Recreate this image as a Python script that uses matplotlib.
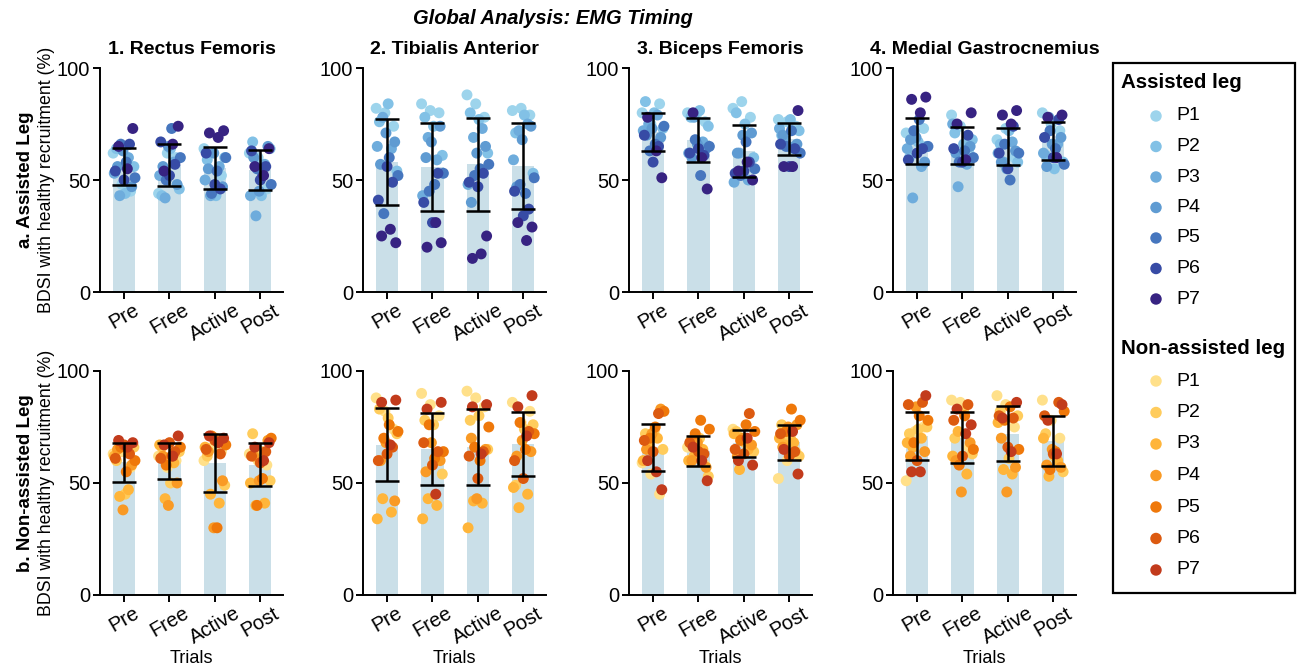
import numpy as np
import matplotlib
matplotlib.use("Agg")
import matplotlib.pyplot as plt
from matplotlib.patches import Rectangle

plt.rcParams['font.family'] = ['Liberation Sans', 'DejaVu Sans']

trials = ["Pre", "Free", "Active", "Post"]
muscles = ["1. Rectus Femoris", "2. Tibialis Anterior", "3. Biceps Femoris", "4. Medial Gastrocnemius"]
participants = ["P1", "P2", "P3", "P4", "P5", "P6", "P7"]

assisted_colors = ["#9dd4ec", "#82c1e6", "#6eacdc", "#5f9bd2", "#4676be", "#374ba5", "#372382"]
non_colors = ["#ffe08a", "#ffcc5c", "#ffb53a", "#f99a25", "#ef780a", "#dc5a10", "#c23b1c"]
bar_color = "#cadfe8"

# BDSI values (%), per trial -> per participant -> 3 repetitions
rf_assisted = [
    [[62, 48, 45], [64, 44, 56], [43, 60, 53], [63, 47, 56], [58, 51, 66], [66, 54, 50], [73, 65, 55]],
    [[44, 62, 60], [43, 64, 46], [42, 58, 52], [65, 48, 56], [73, 60, 50], [57, 67, 52], [74, 54, 66]],
    [[64, 44, 52], [59, 43, 60], [43, 56, 50], [62, 47, 55], [54, 60, 44], [46, 62, 48], [72, 71, 69]],
    [[62, 60, 46], [67, 43, 64], [34, 57, 43], [45, 65, 60], [52, 48, 55], [56, 63, 50], [64, 56, 52]],
]
ta_assisted = [
    [[82, 80, 74], [76, 84, 54], [78, 64, 65], [71, 67, 57], [60, 52, 35], [49, 41, 56], [22, 25, 28]],
    [[84, 81, 80], [78, 74, 61], [69, 59, 43], [67, 74, 60], [48, 53, 45], [53, 40, 31], [22, 20, 31]],
    [[88, 84, 78], [80, 77, 62], [69, 73, 48], [62, 65, 40], [55, 57, 52], [53, 49, 47], [25, 15, 17]],
    [[81, 82, 79], [71, 79, 53], [72, 75, 59], [68, 74, 47], [44, 51, 48], [37, 45, 34], [29, 31, 23]],
]
bf_assisted = [
    [[80, 75, 84], [85, 80, 73], [75, 79, 72], [73, 69, 70], [66, 74, 63], [65, 70, 58], [51, 78, 63]],
    [[80, 79, 76], [78, 81, 74], [78, 67, 62], [66, 64, 60], [52, 65, 68], [61, 62, 64], [46, 80, 60]],
    [[82, 85, 78], [80, 75, 60], [62, 50, 49], [70, 71, 62], [67, 55, 52], [58, 53, 54], [50, 54, 58]],
    [[77, 76, 74], [70, 77, 72], [68, 64, 73], [65, 66, 70], [72, 62, 65], [64, 66, 56], [81, 56, 56]],
]
mg_assisted = [
    [[71, 72, 73], [60, 67, 65], [42, 56, 64], [69, 58, 68], [77, 65, 72], [64, 59, 62], [87, 86, 80]],
    [[79, 74, 62], [71, 66, 68], [47, 57, 75], [58, 65, 62], [63, 60, 58], [70, 64, 58], [80, 75, 59]],
    [[68, 73, 60], [66, 72, 58], [58, 67, 62], [55, 63, 58], [50, 62, 66], [74, 62, 55], [81, 79, 75]],
    [[80, 75, 72], [61, 55, 58], [78, 66, 62], [66, 69, 56], [64, 57, 72], [77, 69, 60], [79, 78, 60]],
]
rf_non = [
    [[63, 64, 57], [60, 45, 66], [44, 47, 62], [38, 58, 65], [55, 60, 66], [63, 61, 67], [68, 69, 66]],
    [[62, 57, 60], [66, 50, 64], [43, 59, 67], [40, 50, 62], [62, 66, 58], [64, 61, 68], [71, 67, 62]],
    [[60, 66, 64], [62, 70, 49], [45, 41, 66], [30, 51, 64], [30, 67, 71], [63, 65, 69], [70, 71, 68]],
    [[63, 60, 58], [72, 64, 51], [40, 41, 50], [51, 69, 62], [52, 70, 40], [64, 62, 59], [68, 66, 60]],
]
ta_non = [
    [[88, 82, 74], [83, 79, 72], [43, 37, 34], [68, 42, 60], [76, 73, 70], [66, 60, 63], [87, 86, 67]],
    [[90, 85, 80], [78, 76, 54], [43, 40, 34], [68, 60, 55], [61, 64, 76], [64, 68, 58], [86, 83, 45]],
    [[91, 88, 84], [78, 80, 65], [42, 41, 30], [43, 65, 70], [60, 75, 66], [64, 62, 52], [85, 84, 63]],
    [[86, 77, 82], [49, 74, 76], [39, 45, 48], [69, 64, 62], [65, 72, 77], [73, 60, 52], [89, 84, 71]],
]
bf_non = [
    [[59, 54, 45], [72, 73, 65], [66, 70, 60], [72, 83, 65], [75, 82, 70], [81, 69, 64], [47, 60, 55]],
    [[66, 62, 58], [69, 70, 53], [62, 65, 60], [68, 57, 60], [78, 74, 72], [63, 68, 64], [51, 66, 60]],
    [[74, 70, 66], [73, 68, 64], [56, 65, 72], [70, 67, 62], [76, 73, 69], [81, 65, 63], [58, 60, 70]],
    [[52, 60, 64], [76, 70, 62], [67, 68, 70], [75, 76, 66], [83, 78, 73], [64, 72, 62], [54, 65, 73]],
]
mg_non = [
    [[51, 73, 75], [72, 74, 75], [66, 70, 68], [84, 64, 62], [80, 78, 68], [86, 85, 60], [89, 55, 55]],
    [[87, 86, 66], [70, 82, 63], [73, 54, 62], [46, 68, 60], [80, 65, 58], [85, 78, 62], [76, 83, 72]],
    [[89, 85, 75], [82, 61, 80], [56, 54, 77], [46, 57, 70], [84, 65, 78], [79, 80, 66], [86, 79, 64]],
    [[87, 78, 70], [72, 62, 55], [53, 60, 70], [65, 57, 58], [64, 82, 56], [86, 80, 63], [85, 78, 63]],
]

rows = [
    ([rf_assisted, ta_assisted, bf_assisted, mg_assisted], assisted_colors, "a. Assisted Leg"),
    ([rf_non, ta_non, bf_non, mg_non], non_colors, "b. Non-assisted Leg"),
]

W, H = 1304, 667
fig = plt.figure(figsize=(W / 100, H / 100), dpi=100)

col_left = [100, 363, 629, 893]
ax_w = 183
row_top = [68, 371]
ax_h = 224

# fixed horizontal spread for the 21 points of each bar
n_pts = 21
spread = np.linspace(-0.24, 0.24, n_pts)
jitter = spread[(np.arange(n_pts) * 8) % n_pts]

for r, (panels, colors, row_label) in enumerate(rows):
    for c, panel in enumerate(panels):
        ax = fig.add_axes([col_left[c] / W, (H - row_top[r] - ax_h) / H, ax_w / W, ax_h / H])
        x = np.arange(len(trials))
        vals = [np.array(t, dtype=float) for t in panel]
        means = [v.mean() for v in vals]
        sds = [v.ravel().std(ddof=1) for v in vals]
        ax.bar(x, means, width=0.49, color=bar_color, zorder=1)
        for ti, v in enumerate(vals):
            for p in range(len(participants)):
                idx = p * 3 + np.arange(3)
                ax.scatter(ti + jitter[idx], v[p], s=62, color=colors[p], edgecolors='none', zorder=2)
        ax.errorbar(x, means, yerr=sds, fmt='none', ecolor='black', elinewidth=1.8,
                    capsize=8.5, capthick=1.8, zorder=4)
        ax.set_ylim(0, 100)
        ax.set_xlim(-0.53, 3.5)
        ax.set_yticks([0, 50, 100])
        ax.set_xticks(x)
        ax.set_xticklabels(trials, rotation=30, ha='center')
        ax.tick_params(axis='both', labelsize=14.5, width=1.4, length=5, direction='out', pad=2)
        ax.tick_params(axis='x', pad=1)
        for side in ['top', 'right']:
            ax.spines[side].set_visible(False)
        for side in ['left', 'bottom']:
            ax.spines[side].set_linewidth(1.4)
        if r == 0:
            ax.set_title(muscles[c], fontsize=14, fontweight='bold', pad=10)
        else:
            ax.set_xlabel("Trials", fontsize=13, labelpad=2)
        if c == 0:
            yc = 1 - (row_top[r] + ax_h / 2) / H
            fig.text(47 / W, yc, "BDSI with healthy recruitment (%)", rotation=90,
                     ha='center', va='center', fontsize=12.8)
            fig.text(26 / W, yc, row_label, rotation=90, ha='center', va='center',
                     fontsize=13.5, fontweight='bold')

fig.text(553 / W, 1 - 18 / H, "Global Analysis: EMG Timing", ha='center', va='center',
         fontsize=14.5, fontweight='bold', fontstyle='italic')

# participant key in a framed panel on the right
lx0, ly0, lw, lh = 1113, 63, 182, 530
lax = fig.add_axes([lx0 / W, (H - ly0 - lh) / H, lw / W, lh / H])
lax.set_xlim(0, lw)
lax.set_ylim(lh, 0)
lax.axis('off')
lax.add_patch(Rectangle((0, 0), lw, lh, fill=False, edgecolor='black', linewidth=1.6,
                        transform=lax.transData, clip_on=False))
groups = [("Assisted leg", assisted_colors, 20, 30.5), ("Non-assisted leg", non_colors, 285, 31.5)]
for title, colors, y0, step in groups:
    lax.text(8, y0, title, fontsize=14.8, fontweight='bold', va='center', ha='left')
    for i, (name, col) in enumerate(zip(participants, colors)):
        yy = y0 + 33 + i * step
        lax.scatter([43], [yy], s=68, color=col, edgecolors='none')
        lax.text(63, yy, name, fontsize=14, va='center', ha='left')

fig.savefig("out.png", dpi=100)
